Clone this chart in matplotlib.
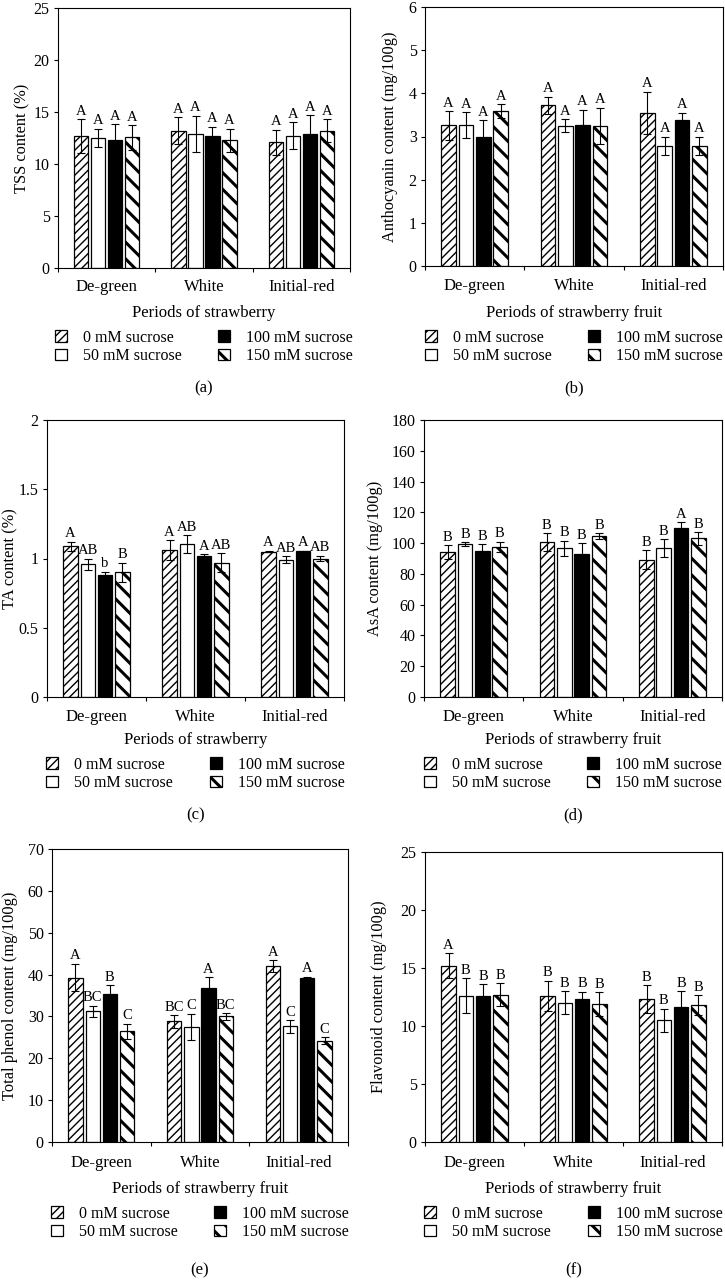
import matplotlib
matplotlib.use("Agg")
import matplotlib.pyplot as plt
import numpy as np

plt.rcParams['font.family'] = ['Liberation Serif', 'DejaVu Serif']
plt.rcParams['font.size'] = 11.5

periods = ["De-green", "White", "Initial-red"]
treatments = ["0 mM sucrose", "50 mM sucrose", "100 mM sucrose", "150 mM sucrose"]

# values indexed [treatment][period]
tss = [[12.7, 13.2, 12.1], [12.5, 12.9, 12.7], [12.3, 12.7, 12.9], [12.55, 12.3, 13.2]]
tss_err = [[1.6, 1.3, 1.2], [0.9, 1.75, 1.3], [1.55, 0.9, 1.8], [1.2, 1.1, 1.1]]
tss_lab = [["A", "A", "A"], ["A", "A", "A"], ["A", "A", "A"], ["A", "A", "A"]]

anth = [[3.26, 3.72, 3.55], [3.27, 3.25, 2.78], [2.98, 3.26, 3.38], [3.59, 3.25, 2.78]]
anth_err = [[0.33, 0.2, 0.49], [0.3, 0.15, 0.22], [0.4, 0.36, 0.17], [0.16, 0.42, 0.22]]
anth_lab = [["A", "A", "A"], ["A", "A", "A"], ["A", "A", "A"], ["A", "A", "A"]]

ta = [[1.087, 1.06, 1.05], [0.96, 1.105, 0.99], [0.88, 1.02, 1.053], [0.90, 0.97, 1.0]]
ta_err = [[0.035, 0.07, 0.005], [0.04, 0.065, 0.025], [0.025, 0.01, 0.003], [0.07, 0.07, 0.02]]
ta_lab = [["A", "A", "A"], ["AB", "AB", "AB"], ["b", "A", "A"], ["B", "AB", "AB"]]

asa = [[94.2, 100.6, 89.2], [99.4, 96.7, 96.7], [94.6, 93.1, 109.5], [97.4, 104.5, 103.0]]
asa_err = [[4.5, 5.9, 6.0], [1.2, 4.8, 5.9], [4.5, 6.7, 4.1], [3.5, 1.8, 4.1]]
asa_lab = [["B", "B", "B"], ["B", "B", "B"], ["B", "B", "A"], ["B", "B", "B"]]

phen = [[39.3, 28.8, 42.0], [31.2, 27.5, 27.6], [35.35, 36.8, 39.3], [26.4, 30.0, 24.2]]
phen_err = [[3.3, 1.45, 1.4], [1.4, 3.15, 1.5], [2.05, 2.6, 0.2], [1.9, 0.8, 0.9]]
phen_lab = [["A", "BC", "A"], ["BC", "C", "C"], ["B", "A", "A"], ["C", "BC", "C"]]

flav = [[15.2, 12.6, 12.3], [12.6, 12.0, 10.5], [12.6, 12.3, 11.6], [12.7, 11.9, 11.8]]
flav_err = [[1.1, 1.3, 1.2], [1.5, 1.0, 1.0], [1.0, 0.67, 1.4], [1.0, 1.0, 0.85]]
flav_lab = [["A", "B", "B"], ["B", "B", "B"], ["B", "B", "B"], ["B", "B", "B"]]

panels = [
    dict(vals=tss, err=tss_err, lab=tss_lab, ylabel="TSS content (%)", ymax=25, step=5,
         xlabel="Periods of strawberry", tag="(a)",
         box=(58, 350, 8, 268), ylx=22, tk=287, xl=313, lg=347, tg=388),
    dict(vals=anth, err=anth_err, lab=anth_lab, ylabel="Anthocyanin content (mg/100g)", ymax=6, step=1,
         xlabel="Periods of strawberry fruit", tag="(b)",
         box=(425, 723, 7, 266), ylx=390, tk=286, xl=313, lg=347, tg=388),
    dict(vals=ta, err=ta_err, lab=ta_lab, ylabel="TA content (%)", ymax=2, step=0.5,
         xlabel="Periods of strawberry", tag="(c)",
         box=(47, 344, 420, 697), ylx=10, tk=717, xl=740, lg=774, tg=815),
    dict(vals=asa, err=asa_err, lab=asa_lab, ylabel="AsA content (mg/100g)", ymax=180, step=20,
         xlabel="Periods of strawberry fruit", tag="(d)",
         box=(424, 722, 420, 697), ylx=375, tk=717, xl=740, lg=774, tg=815),
    dict(vals=phen, err=phen_err, lab=phen_lab, ylabel="Total phenol content (mg/100g)", ymax=70, step=10,
         xlabel="Periods of strawberry fruit", tag="(e)",
         box=(52, 348, 849, 1142), ylx=10, tk=1163, xl=1189, lg=1223, tg=1270),
    dict(vals=flav, err=flav_err, lab=flav_lab, ylabel="Flavonoid content (mg/100g)", ymax=25, step=5,
         xlabel="Periods of strawberry fruit", tag="(f)",
         box=(425, 722, 852, 1142), ylx=379, tk=1163, xl=1189, lg=1223, tg=1270),
]

W, H = 725, 1288
fig = plt.figure(figsize=(W / 100, H / 100), dpi=100)

offsets = [-0.262, -0.087, 0.087, 0.262]
bw = 0.145
styles = [
    dict(facecolor="white", hatch="////", hlw=1.0),
    dict(facecolor="white", hatch=None, hlw=1.0),
    dict(facecolor="black", hatch=None, hlw=1.0),
    dict(facecolor="white", hatch="\\\\", hlw=2.2),
]


def fx(px):
    return px / W


def fy(py):
    return 1 - py / H


for p in panels:
    l, r, t, b = p["box"]
    ax = fig.add_axes([fx(l), fy(b), (r - l) / W, (b - t) / H])
    centers = np.arange(len(periods)) + 0.5
    for i, tr in enumerate(treatments):
        st = styles[i]
        with plt.rc_context({'hatch.linewidth': st["hlw"]}):
            bars = ax.bar(centers + offsets[i], p["vals"][i], width=bw,
                          color=st["facecolor"], edgecolor="black", linewidth=0.9,
                          hatch=st["hatch"], label=tr, zorder=2)
        for patch in bars.patches:
            if hasattr(patch, "set_hatch_linewidth"):
                patch.set_hatch_linewidth(st["hlw"])
        ax.errorbar(centers + offsets[i], p["vals"][i], yerr=p["err"][i], fmt="none",
                    ecolor="black", elinewidth=0.8, capsize=3.2, capthick=0.8, zorder=3)
        for j in range(len(periods)):
            ax.annotate(p["lab"][i][j], (centers[j] + offsets[i], p["vals"][i][j] + p["err"][i][j]),
                        xytext=(0, 1), textcoords="offset points", ha="center", va="bottom",
                        fontsize=10.5)
    ax.set_xlim(0, 3)
    ax.set_ylim(0, p["ymax"])
    ticks = np.arange(0, p["ymax"] + p["step"] / 2, p["step"])
    ax.set_yticks(ticks)
    ax.set_yticklabels([("%g" % v) for v in ticks])
    ax.set_xticks([0, 1, 2, 3])
    ax.set_xticklabels([])
    ax.tick_params(axis="both", which="major", direction="out", length=3, width=0.8, pad=3,
                   labelsize=11.5)
    for s in ax.spines.values():
        s.set_linewidth(0.8)
    xc = (l + r) / 2
    for j, per in enumerate(periods):
        xp = l + (r - l) * (j + 0.5) / 3
        fig.text(fx(xp), fy(p["tk"]), per, ha="center", va="center", fontsize=12)
    fig.text(fx(xc), fy(p["xl"]), p["xlabel"], ha="center", va="center", fontsize=12)
    fig.text(fx(p["ylx"]), fy((t + b) / 2), p["ylabel"], ha="center", va="center",
             rotation=90, fontsize=11.8)
    fig.text(fx(xc), fy(p["tg"]), p["tag"], ha="center", va="center", fontsize=12)
    handles, labels = ax.get_legend_handles_labels()
    leg = ax.legend(handles, labels, loc="center", bbox_to_anchor=(fx(xc), fy(p["lg"])),
                    bbox_transform=fig.transFigure, ncol=2, frameon=False, fontsize=11.5,
                    handlelength=0.75, handleheight=0.75, handletextpad=1.0,
                    columnspacing=2.3, labelspacing=0.15, borderpad=0, borderaxespad=0)
    for h, st in zip(leg.legend_handles, styles):
        if hasattr(h, "set_hatch_linewidth"):
            h.set_hatch_linewidth(st["hlw"])

fig.savefig("out.png", dpi=100)
